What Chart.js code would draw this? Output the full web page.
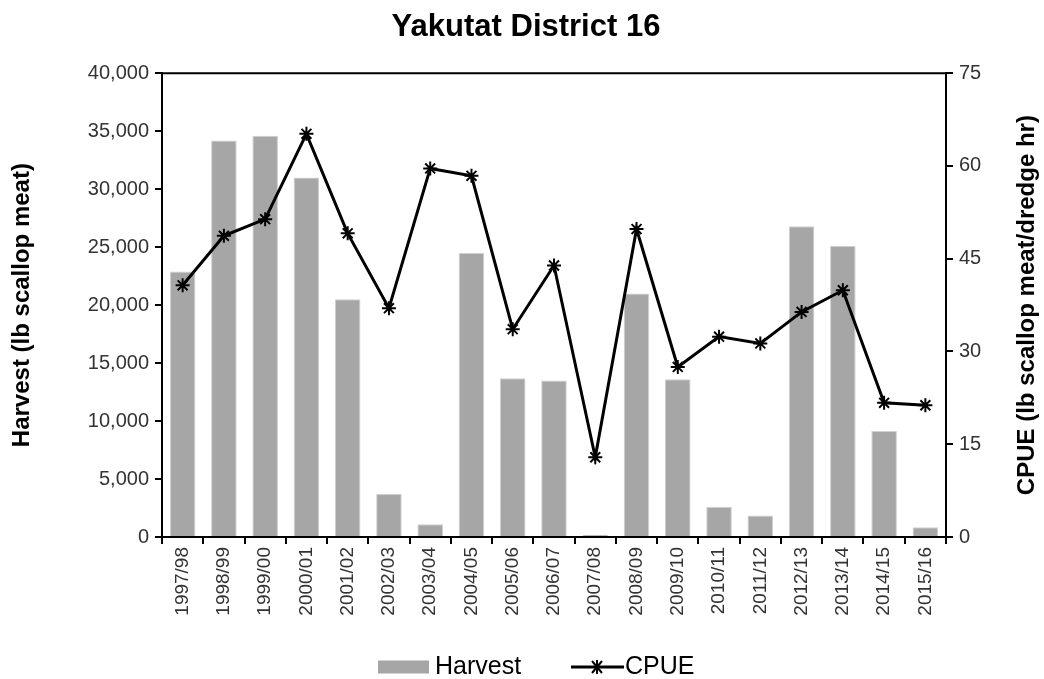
<!DOCTYPE html>
<html>
<head>
<meta charset="utf-8">
<script src="https://cdn.jsdelivr.net/npm/chart.js@4/dist/chart.umd.min.js"></script>
<style>
  html, body { margin: 0; padding: 0; background: #fff; }
  #wrap { width: 1044px; height: 679px; }
</style>
</head>
<body>
<div id="wrap"><canvas id="yakChart" width="1044" height="679"></canvas></div>
<script>
// Data
const seasons = ['1997/98', '1998/99', '1999/00', '2000/01', '2001/02', '2002/03', '2003/04',
  '2004/05', '2005/06', '2006/07', '2007/08', '2008/09', '2009/10', '2010/11', '2011/12',
  '2012/13', '2013/14', '2014/15', '2015/16'];
const harvest = [22900, 34200, 34600, 31000, 20500, 3700, 1100, 24500, 13700, 13500,
  200, 21000, 13600, 2600, 1850, 26800, 25100, 9150, 840];
const cpue = [40.7, 48.7, 51.4, 65.2, 49.1, 37.0, 59.6, 58.4, 33.6, 43.9,
  12.9, 49.8, 27.5, 32.4, 31.3, 36.4, 39.9, 21.7, 21.3];

const FONT = "'Liberation Sans', Arial, sans-serif";
const barGrey = '#a6a6a6';

// top frame line, right axis title (reads bottom-to-top) and the legend
const extrasPlugin = {
  id: 'extras',
  afterDraw(chart) {
    const a = chart.chartArea, ctx = chart.ctx;
    ctx.save();
    ctx.strokeStyle = '#000';
    ctx.lineWidth = 2;
    ctx.beginPath();
    ctx.moveTo(a.left, a.top);
    ctx.lineTo(a.right, a.top);
    ctx.stroke();

    // right title
    ctx.save();
    ctx.translate(1027, (a.top + a.bottom) / 2);
    ctx.rotate(-Math.PI / 2);
    ctx.fillStyle = '#000';
    ctx.font = 'bold 24px ' + FONT;
    ctx.textAlign = 'center';
    ctx.textBaseline = 'middle';
    ctx.fillText('CPUE (lb scallop meat/dredge hr)', 0, 0);
    ctx.restore();

    // legend
    const ly = 667;
    ctx.fillStyle = barGrey;
    ctx.fillRect(378, ly - 6.5, 51, 13);
    ctx.fillStyle = '#000';
    ctx.font = '25px ' + FONT;
    ctx.textAlign = 'left';
    ctx.textBaseline = 'middle';
    ctx.fillText('Harvest', 435, ly);
    ctx.lineWidth = 3;
    ctx.beginPath();
    ctx.moveTo(571, ly); ctx.lineTo(624, ly);
    ctx.stroke();
    ctx.lineWidth = 2;
    ctx.beginPath();
    ctx.moveTo(592, ly - 6); ctx.lineTo(602, ly + 6);
    ctx.moveTo(602, ly - 6); ctx.lineTo(592, ly + 6);
    ctx.moveTo(597, ly - 7); ctx.lineTo(597, ly + 7);
    ctx.stroke();
    ctx.fillText('CPUE', 625, ly);
    ctx.restore();
  }
};

const ctx = document.getElementById('yakChart').getContext('2d');
const yakChart = new Chart(ctx, {
  type: 'bar',
  data: {
    labels: seasons,
    datasets: [
      {
        type: 'line',
        label: 'CPUE',
        data: cpue,
        yAxisID: 'y2',
        borderColor: '#000',
        borderWidth: 3,
        pointStyle: 'star',
        pointRadius: 7,
        pointBorderWidth: 2,
        pointBorderColor: '#000',
        pointBackgroundColor: '#000',
        tension: 0,
        order: 0
      },
      {
        label: 'Harvest',
        data: harvest,
        yAxisID: 'y',
        backgroundColor: barGrey,
        borderColor: '#d0d0d0',
        borderWidth: 1,
        barPercentage: 0.62,
        categoryPercentage: 1,
        order: 1
      }
    ]
  },
  options: {
    responsive: false,
    animation: false,
    layout: { padding: { top: 0, right: 0, bottom: 6, left: 8 } },
    plugins: {
      title: {
        display: true,
        text: 'Yakutat District 16',
        color: '#000',
        font: { family: FONT, size: 31, weight: 'bold' },
        padding: { top: 9, bottom: 27 }
      },
      legend: { display: false },
      tooltip: { enabled: false }
    },
    scales: {
      x: {
        offset: true,
        afterFit(scale) { scale.height = 136; },
        grid: { display: true, drawOnChartArea: false, offset: true, color: '#000', lineWidth: 2, tickLength: 7, tickColor: '#000' },
        border: { color: '#000', width: 2 },
        ticks: {
          color: '#333',
          font: { family: FONT, size: 19 },
          minRotation: 90,
          maxRotation: 90,
          autoSkip: false,
          padding: 3
        }
      },
      y: {
        position: 'left',
        min: 0,
        max: 40000,
        afterFit(scale) { scale.width = 154; },
        grid: { drawOnChartArea: false, color: '#000', lineWidth: 2, tickLength: 7, tickColor: '#000' },
        border: { color: '#000', width: 2 },
        ticks: {
          stepSize: 5000,
          color: '#333',
          font: { family: FONT, size: 20 },
          padding: 6,
          callback: v => v.toLocaleString('en-US')
        },
        title: {
          display: true,
          text: 'Harvest (lb scallop meat)',
          color: '#000',
          font: { family: FONT, size: 24, weight: 'bold' },
          padding: { top: 0, bottom: 10 }
        }
      },
      y2: {
        position: 'right',
        min: 0,
        max: 75,
        afterFit(scale) { scale.width = 98; },
        grid: { drawOnChartArea: false, color: '#000', lineWidth: 2, tickLength: 7, tickColor: '#000' },
        border: { color: '#000', width: 2 },
        ticks: {
          stepSize: 15,
          color: '#333',
          font: { family: FONT, size: 20 },
          padding: 6
        }
      }
    }
  },
  plugins: [extrasPlugin]
});
</script>
</body>
</html>
